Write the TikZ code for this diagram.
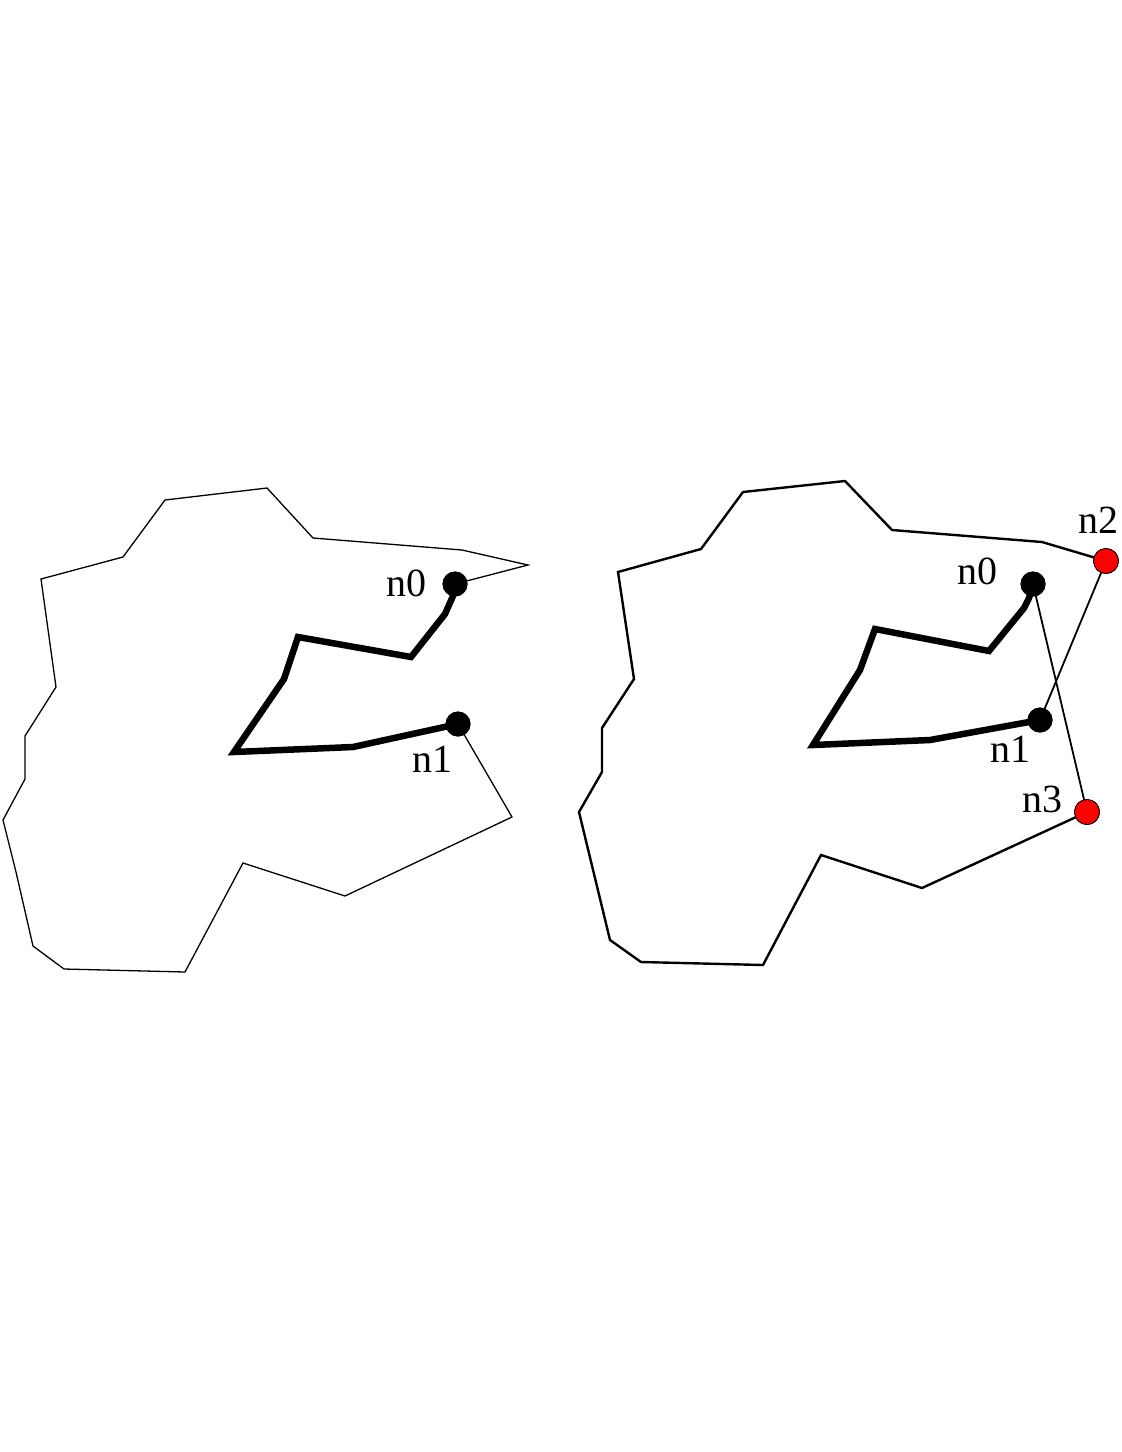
\documentclass[tikz,border=0pt]{standalone}
\usepackage{fontspec}
\setmainfont{Liberation Serif}
\begin{document}
\begin{tikzpicture}[x=1pt,y=-1pt,
  thinline/.style={line width=1.3pt,line join=miter},
  outline/.style={line width=2.4pt,line join=miter},
  link/.style={line width=1.8pt},
  thickpath/.style={line width=6.5pt,line join=miter},
  blackdot/.style={circle,fill=black,minimum size=25pt,inner sep=0pt},
  reddot/.style={circle,fill=red,draw=black,line width=0.8pt,minimum size=25pt,inner sep=0pt},
  lbl/.style={font=\fontsize{40}{44}\selectfont,inner sep=0pt,anchor=base}]
\useasboundingbox (0,0) rectangle (1122,1452);
% ---------- left panel ----------
\coordinate (La1) at (528,565);
\coordinate (La2) at (462,550);
\coordinate (La3) at (313,538);
\coordinate (La4) at (267,488);
\coordinate (La5) at (165,500);
\coordinate (La6) at (123,557);
\coordinate (La7) at (41,579);
\coordinate (La8) at (56,687);
\coordinate (La9) at (25,736);
\coordinate (La10) at (25,779);
\coordinate (La11) at (3,820);
\coordinate (La12) at (16,872);
\coordinate (La13) at (33,946);
\coordinate (La14) at (64,969);
\coordinate (La15) at (185,972);
\coordinate (La16) at (243,863);
\coordinate (La17) at (345,896);
\coordinate (La18) at (512,817);
\coordinate (Lt1) at (453,596);
\coordinate (Lt2) at (445,614);
\coordinate (Lt3) at (411,657);
\coordinate (Lt4) at (298,637);
\coordinate (Lt5) at (284,679);
\coordinate (Lt6) at (234,752);
\coordinate (Lt7) at (353,747);
\node[blackdot] (Ln0) at (455,584) {};
\node[blackdot] (Ln1) at (458,724) {};
\draw[thinline] (Ln0.center) -- (La1) -- (La2) -- (La3) -- (La4) -- (La5) -- (La6) -- (La7) -- (La8) -- (La9) -- (La10) -- (La11) -- (La12) -- (La13) -- (La14) -- (La15) -- (La16) -- (La17) -- (La18) -- (Ln1.center);
\draw[thickpath] (Ln0.center) -- (Lt1) -- (Lt2) -- (Lt3) -- (Lt4) -- (Lt5) -- (Lt6) -- (Lt7) -- (Ln1.center);
\node[blackdot] at (Ln0) {};
\node[blackdot] at (Ln1) {};
\node[lbl] (Lb0) at (406,596) {n0};
\node[lbl] (Lb1) at (432,772) {n1};
% ---------- right panel ----------
\coordinate (Ra1) at (1042,542);
\coordinate (Ra2) at (892,530);
\coordinate (Ra3) at (845,481);
\coordinate (Ra4) at (743,492);
\coordinate (Ra5) at (701,549);
\coordinate (Ra6) at (618,572);
\coordinate (Ra7) at (634,679);
\coordinate (Ra8) at (602,728);
\coordinate (Ra9) at (602,772);
\coordinate (Ra10) at (579,812);
\coordinate (Ra11) at (610,940);
\coordinate (Ra12) at (641,962);
\coordinate (Ra13) at (763,965);
\coordinate (Ra14) at (821,855);
\coordinate (Ra15) at (922,888);
\coordinate (Rt1) at (1029,598);
\coordinate (Rt2) at (1024,608);
\coordinate (Rt3) at (989,651);
\coordinate (Rt4) at (875,629);
\coordinate (Rt5) at (860,670);
\coordinate (Rt6) at (813,745);
\coordinate (Rt7) at (930,740);
\node[blackdot] (Rn0) at (1033,584) {};
\node[blackdot] (Rn1) at (1040,720) {};
\node[reddot] (Rn2) at (1106,561) {};
\node[reddot] (Rn3) at (1087,812) {};
\draw[outline] (Rn2.center) -- (Ra1) -- (Ra2) -- (Ra3) -- (Ra4) -- (Ra5) -- (Ra6) -- (Ra7) -- (Ra8) -- (Ra9) -- (Ra10) -- (Ra11) -- (Ra12) -- (Ra13) -- (Ra14) -- (Ra15) -- (Rn3.center);
\draw[link] (Rn3.center) -- (Rn0.center);
\draw[link] (Rn1.center) -- (Rn2.center);
\draw[thickpath] (Rn0.center) -- (Rt1) -- (Rt2) -- (Rt3) -- (Rt4) -- (Rt5) -- (Rt6) -- (Rt7) -- (Rn1.center);
\node[blackdot] at (Rn0) {};
\node[blackdot] at (Rn1) {};
\node[reddot] at (Rn2) {};
\node[reddot] at (Rn3) {};
\node[lbl] (Rb0) at (977,584) {n0};
\node[lbl] (Rb1) at (1010,762) {n1};
\node[lbl] (Rb2) at (1098,533) {n2};
\node[lbl] (Rb3) at (1042,812) {n3};
\end{tikzpicture}
\end{document}
